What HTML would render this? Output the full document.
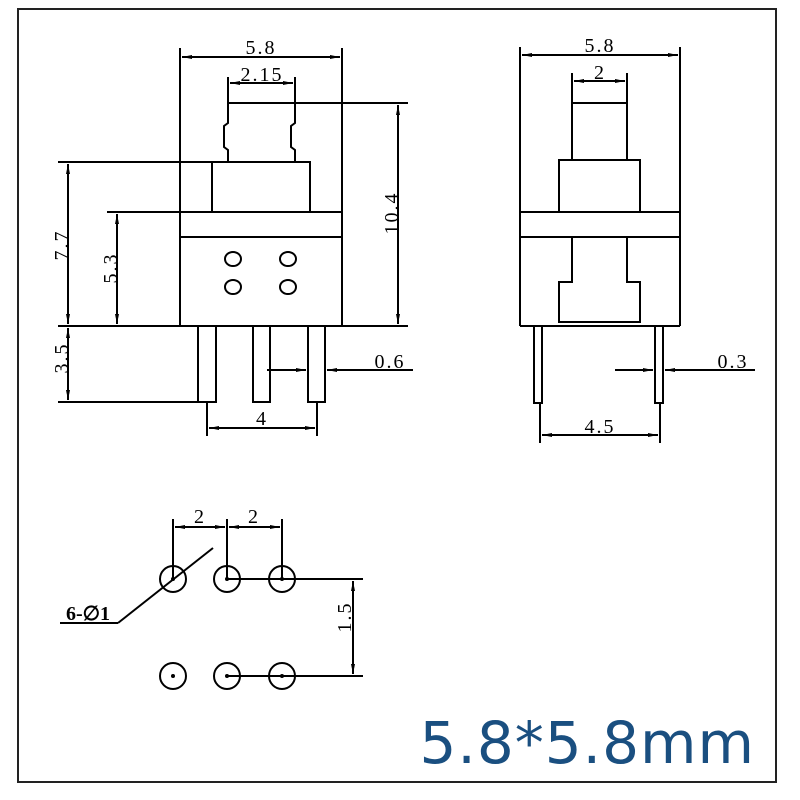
<!DOCTYPE html>
<html><head><style>html,body{margin:0;padding:0;background:#fff}svg{display:block}</style></head>
<body>
<svg width="800" height="800" viewBox="0 0 800 800" xmlns="http://www.w3.org/2000/svg">
<defs>
<marker id="a" viewBox="0 0 10 6" refX="10" refY="3" markerWidth="10" markerHeight="6" orient="auto-start-reverse" markerUnits="userSpaceOnUse"><path d="M0,1 L10,3 L0,5 Z" fill="#000"/></marker>
</defs>
<rect x="18" y="9" width="758" height="773" fill="none" stroke="#222" stroke-width="2"/>
<g fill="none" stroke="#000" stroke-width="2">
<!-- LEFT VIEW -->
<line x1="180" y1="48" x2="180" y2="326"/>
<line x1="342" y1="48" x2="342" y2="326"/>
<line x1="182" y1="57" x2="340" y2="57" marker-start="url(#a)" marker-end="url(#a)"/>
<line x1="228" y1="77" x2="228" y2="103"/>
<line x1="295" y1="77" x2="295" y2="103"/>
<line x1="230" y1="83" x2="293" y2="83" marker-start="url(#a)" marker-end="url(#a)"/>
<line x1="228" y1="103" x2="408" y2="103"/>
<path d="M228,103 V123 L224,126 V147 L228,150 V162"/>
<path d="M295,103 V123 L291,126 V147 L295,150 V162"/>
<rect x="212" y="162" width="98" height="50"/>
<line x1="58" y1="162" x2="212" y2="162"/>
<line x1="107" y1="212" x2="342" y2="212"/>
<line x1="180" y1="237" x2="342" y2="237"/>
<line x1="58" y1="326" x2="408" y2="326"/>
<ellipse cx="233" cy="259" rx="8" ry="7"/><ellipse cx="288" cy="259" rx="8" ry="7"/>
<ellipse cx="233" cy="287" rx="8" ry="7"/><ellipse cx="288" cy="287" rx="8" ry="7"/>
<line x1="68" y1="164" x2="68" y2="324" marker-start="url(#a)" marker-end="url(#a)"/>
<line x1="117" y1="214" x2="117" y2="324" marker-start="url(#a)" marker-end="url(#a)"/>
<line x1="398" y1="105" x2="398" y2="324" marker-start="url(#a)" marker-end="url(#a)"/>
<line x1="68" y1="328" x2="68" y2="400" marker-start="url(#a)" marker-end="url(#a)"/>
<line x1="58" y1="402" x2="200" y2="402"/>
<rect x="198" y="326" width="18" height="76"/>
<rect x="253" y="326" width="17" height="76"/>
<rect x="308" y="326" width="17" height="76"/>
<line x1="267" y1="370" x2="306" y2="370" marker-end="url(#a)"/>
<line x1="413" y1="370" x2="327" y2="370" marker-end="url(#a)"/>
<line x1="207" y1="402" x2="207" y2="436"/>
<line x1="317" y1="402" x2="317" y2="436"/>
<line x1="209" y1="428" x2="315" y2="428" marker-start="url(#a)" marker-end="url(#a)"/>
<!-- RIGHT VIEW -->
<line x1="520" y1="47" x2="520" y2="326"/>
<line x1="680" y1="47" x2="680" y2="326"/>
<line x1="522" y1="55" x2="678" y2="55" marker-start="url(#a)" marker-end="url(#a)"/>
<line x1="572" y1="73" x2="572" y2="160"/>
<line x1="627" y1="73" x2="627" y2="160"/>
<line x1="574" y1="81" x2="625" y2="81" marker-start="url(#a)" marker-end="url(#a)"/>
<line x1="572" y1="103" x2="627" y2="103"/>
<rect x="559" y="160" width="81" height="52"/>
<line x1="520" y1="212" x2="680" y2="212"/>
<line x1="520" y1="237" x2="680" y2="237"/>
<path d="M572,237 V282 H559 V322 H640 V282 H627 V237"/>
<line x1="520" y1="326" x2="680" y2="326"/>
<rect x="534" y="326" width="8" height="77"/>
<rect x="655" y="326" width="8" height="77"/>
<line x1="540" y1="403" x2="540" y2="443"/>
<line x1="660" y1="403" x2="660" y2="443"/>
<line x1="542" y1="435" x2="658" y2="435" marker-start="url(#a)" marker-end="url(#a)"/>
<line x1="615" y1="370" x2="653" y2="370" marker-end="url(#a)"/>
<line x1="755" y1="370" x2="665" y2="370" marker-end="url(#a)"/>
<!-- BOTTOM VIEW -->
<circle cx="173" cy="579" r="13"/><circle cx="227" cy="579" r="13"/><circle cx="282" cy="579" r="13"/>
<circle cx="173" cy="676" r="13"/><circle cx="227" cy="676" r="13"/><circle cx="282" cy="676" r="13"/>
<line x1="173" y1="519" x2="173" y2="579"/>
<line x1="227" y1="519" x2="227" y2="579"/>
<line x1="282" y1="519" x2="282" y2="579"/>
<line x1="175" y1="527" x2="225" y2="527" marker-start="url(#a)" marker-end="url(#a)"/>
<line x1="229" y1="527" x2="280" y2="527" marker-start="url(#a)" marker-end="url(#a)"/>
<line x1="227" y1="579" x2="363" y2="579"/>
<line x1="227" y1="676" x2="363" y2="676"/>
<line x1="353" y1="581" x2="353" y2="674" marker-start="url(#a)" marker-end="url(#a)"/>
<line x1="213" y1="548" x2="118" y2="623"/>
<line x1="118" y1="623" x2="60" y2="623"/>
</g>
<g fill="#000">
<circle cx="173" cy="579" r="2"/><circle cx="227" cy="579" r="2"/><circle cx="282" cy="579" r="2"/>
<circle cx="173" cy="676" r="2"/><circle cx="227" cy="676" r="2"/><circle cx="282" cy="676" r="2"/>
</g>
<g font-family="Liberation Serif, serif" font-size="20" fill="#000" text-anchor="middle" letter-spacing="2">
<text x="261" y="54">5.8</text>
<text x="262" y="81">2.15</text>
<text x="600" y="52">5.8</text>
<text x="600" y="79">2</text>
<text x="390" y="368">0.6</text>
<text x="733" y="368">0.3</text>
<text x="262" y="425">4</text>
<text x="600" y="433">4.5</text>
<text x="200" y="523">2</text>
<text x="254" y="523">2</text>
<text x="88" y="620" font-weight="bold" letter-spacing="0">6-∅1</text>
<text transform="translate(68,245) rotate(-90)">7.7</text>
<text transform="translate(117,268) rotate(-90)">5.3</text>
<text transform="translate(398,213) rotate(-90)">10.4</text>
<text transform="translate(68,358) rotate(-90)">3.5</text>
<text transform="translate(351,617) rotate(-90)">1.5</text>
</g>
<text x="755" y="763" text-anchor="end" font-family="DejaVu Sans, sans-serif" font-size="58" fill="#1a4f80" letter-spacing="1">5.8*5.8mm</text>
</svg>
</body></html>
